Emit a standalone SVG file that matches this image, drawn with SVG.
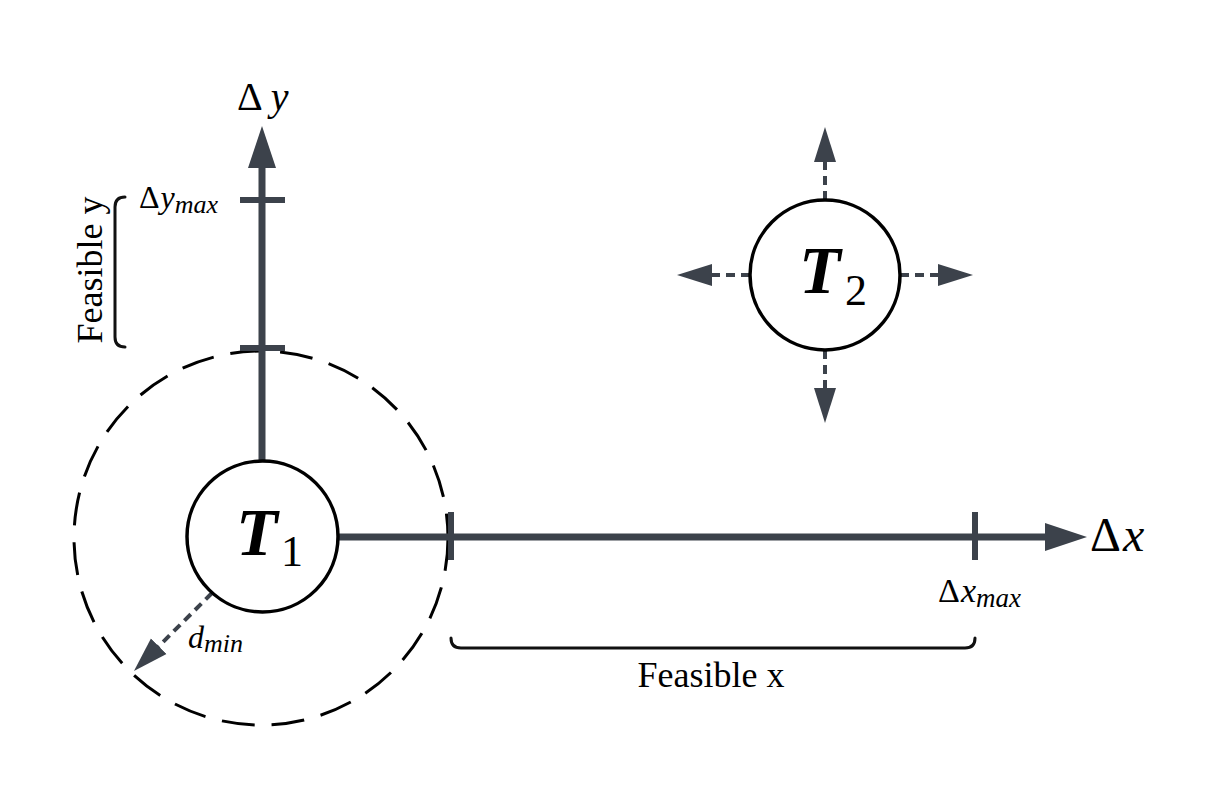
<svg xmlns="http://www.w3.org/2000/svg" width="1224" height="799" viewBox="0 0 1224 799">
<defs>
<style>
.axis{stroke:#3c424b;stroke-width:7;fill:none}
.tick{stroke:#3c424b;stroke-width:6;fill:none}
.dash{stroke:#3c424b;stroke-width:4;fill:none;stroke-dasharray:9 6}
.node{fill:#fff;stroke:#000;stroke-width:3.5}
.range{fill:none;stroke:#000;stroke-width:3}
.brace{fill:none;stroke:#111;stroke-width:3;stroke-linecap:round}
.t{font-family:"Liberation Serif","Times New Roman",serif;fill:#000}
.it{font-style:italic}
</style>
<marker id="axArrow" markerUnits="userSpaceOnUse" markerWidth="42" markerHeight="28" refX="2" refY="14" orient="auto">
<path d="M0,0 L42,14 L0,28 Z" fill="#3c424b"/>
</marker>
<marker id="smArrow" markerUnits="userSpaceOnUse" markerWidth="36" markerHeight="24" refX="1" refY="12" orient="auto">
<path d="M0,1 L35,12 L0,23 Z" fill="#3c424b"/>
</marker>
</defs>
<rect width="1224" height="799" fill="#fff"/>

<g id="dmin-zone">
<circle class="range" cx="261" cy="538" r="187" stroke-dasharray="33 17"/>
</g>

<g id="connectors">
<line class="axis" x1="262" y1="462" x2="262" y2="166" marker-end="url(#axArrow)"/>
<line class="axis" x1="338" y1="537" x2="1047" y2="537" marker-end="url(#axArrow)"/>
<line class="tick" x1="240" y1="200" x2="285" y2="200"/>
<line class="tick" x1="240" y1="348" x2="285" y2="348"/>
<line class="tick" x1="451" y1="512" x2="451" y2="560"/>
<line class="tick" x1="975" y1="512" x2="975" y2="560"/>
<line class="dash" x1="212" y1="593" x2="158" y2="647" marker-end="url(#smArrow)"/>
<line class="dash" x1="825" y1="200" x2="825" y2="161" marker-end="url(#smArrow)"/>
<line class="dash" x1="825" y1="350" x2="825" y2="389" marker-end="url(#smArrow)"/>
<line class="dash" x1="750" y1="275" x2="711" y2="275" marker-end="url(#smArrow)"/>
<line class="dash" x1="900" y1="275" x2="939" y2="275" marker-end="url(#smArrow)"/>
</g>

<g id="T1">
<circle class="node" cx="262.5" cy="536.5" r="75.5"/>
<text class="t" x="236" y="555" font-size="68" font-style="italic" font-weight="bold">T</text>
<text class="t" x="281" y="566" font-size="44">1</text>
</g>

<g id="T2">
<circle class="node" cx="825" cy="275" r="75"/>
<text class="t" x="799" y="293" font-size="68" font-style="italic" font-weight="bold">T</text>
<text class="t" x="845" y="305" font-size="44">2</text>
</g>

<g id="labels">
<text class="t" x="237" y="110" font-size="40">Δ<tspan class="it" dx="8">y</tspan></text>
<text class="t" x="1090" y="551" font-size="48">Δ<tspan class="it" dx="2">x</tspan></text>
<text class="t" x="139" y="208" font-size="32">Δ<tspan class="it" dx="1">y</tspan><tspan class="it" font-size="26" dy="5">max</tspan></text>
<text class="t" x="938" y="602" font-size="34">Δ<tspan class="it" dx="1">x</tspan><tspan class="it" font-size="27" dy="5">max</tspan></text>
<text class="t it" x="188" y="648" font-size="32">d<tspan font-size="26" dy="4">min</tspan></text>
</g>

<g id="feasible-x">
<path class="brace" d="M451,638 Q451,648 461,648 L965,648 Q975,648 975,638"/>
<text class="t" x="711" y="687" font-size="36" text-anchor="middle">Feasible x</text>
</g>

<g id="feasible-y">
<path class="brace" d="M125,197 Q115,197 115,207 L115,337 Q115,347 125,347"/>
<text class="t" transform="translate(102,270) rotate(-90)" font-size="36" text-anchor="middle">Feasible y</text>
</g>
</svg>
